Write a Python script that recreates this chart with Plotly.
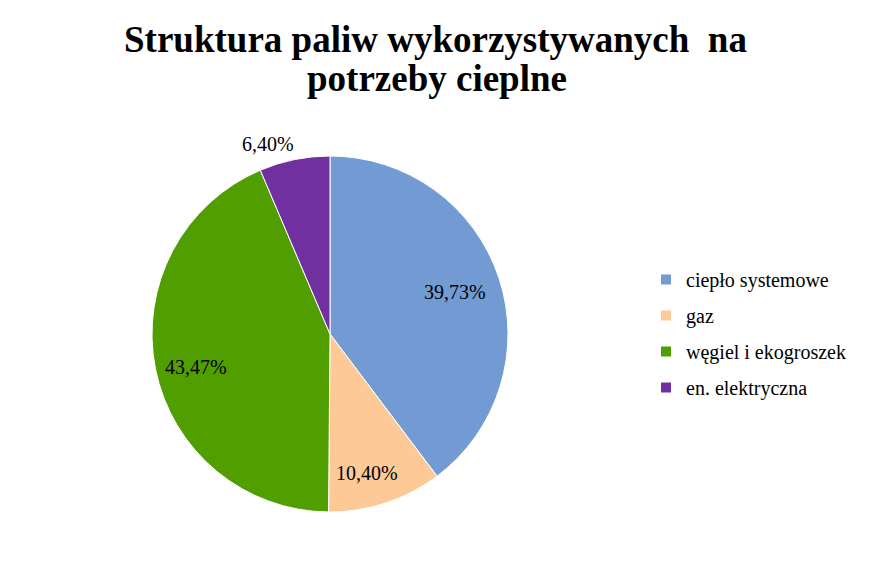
import math
import plotly.graph_objects as go

categories = ["ciepło systemowe", "gaz", "węgiel i ekogroszek", "en. elektryczna"]
values = [39.73, 10.40, 43.47, 6.40]
value_labels = ["39,73%", "10,40%", "43,47%", "6,40%"]
colors = ["#729BD3", "#FDCA97", "#509E00", "#7030A0"]
title_lines = ["Struktura paliw wykorzystywanych\u00a0 na", "potrzeby cieplne"]

W, H = 872, 564
cx, cy, R = 330, 334, 178
SERIF = "Liberation Serif, Times New Roman, serif"

fig = go.Figure()
fig.add_trace(go.Pie(
    labels=categories, values=values, sort=False, direction="clockwise", rotation=0,
    marker=dict(colors=colors, line=dict(color="white", width=1)),
    textinfo="none", hoverinfo="label+percent", showlegend=False,
    domain=dict(x=[(cx - R) / W, (cx + R) / W], y=[1 - (cy + R) / H, 1 - (cy - R) / H]),
))

# legend entries
for i, (c, col) in enumerate(zip(categories, colors)):
    fig.add_trace(go.Scatter(
        x=[None], y=[None], mode="markers", name=c, legendgroup=str(i),
        marker=dict(symbol="square", size=10, color=col),
    ))

# data labels computed from the slice angles
rfac = [0.74, 0.82, 0.77, 1.09]
shifts = [(0, 0), (-9, 0), (0, -6), (-23, 0)]
total = sum(values)
cum = 0
for v, lab, rf, (sx, sy) in zip(values, value_labels, rfac, shifts):
    mid = (cum + v / 2) / total * 2 * math.pi
    cum += v
    px = cx + rf * R * math.sin(mid)
    py = cy - rf * R * math.cos(mid)
    fig.add_annotation(x=px / W, y=1 - py / H, xref="paper", yref="paper",
                       xanchor="center", yanchor="middle",
                       text=lab, showarrow=False, xshift=sx, yshift=sy,
                       font=dict(family=SERIF, size=20, color="black"))

# title
for t, yc, xc in zip(title_lines, [40, 78], [435, 437]):
    fig.add_annotation(x=xc / W, y=1 - yc / H, xref="paper", yref="paper",
                       xanchor="center", yanchor="middle",
                       text=t, showarrow=False,
                       font=dict(family=SERIF, size=37, color="black", weight="bold"))

fig.update_layout(
    width=W, height=H, margin=dict(l=0, r=0, t=0, b=0),
    paper_bgcolor="white", plot_bgcolor="white",
    xaxis=dict(visible=False), yaxis=dict(visible=False),
    legend=dict(x=646 / W, y=1 - 260 / H, xanchor="left", yanchor="top",
                font=dict(family=SERIF, size=20, color="black"),
                tracegroupgap=7, traceorder="grouped", bgcolor="rgba(0,0,0,0)"),
)

fig.write_html("out.html")
